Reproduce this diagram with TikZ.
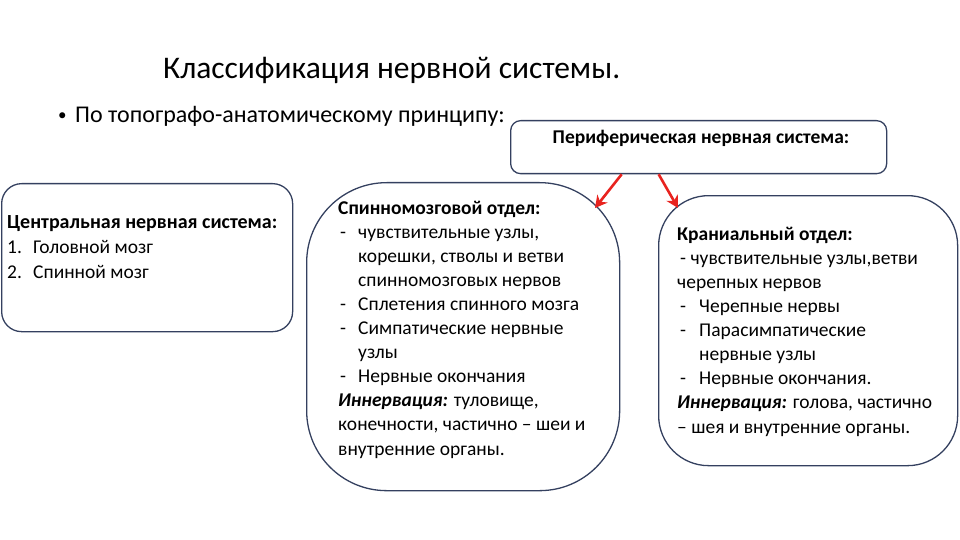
\documentclass[tikz,border=0pt]{standalone}
\usepackage{fontspec}
\setmainfont{Carlito}
\usetikzlibrary{arrows.meta}
\definecolor{boxcol}{HTML}{34405F}
\definecolor{arrred}{HTML}{E8231F}
\tikzset{
  box/.style={draw=boxcol, line width=1.3pt, anchor=north west, inner sep=0pt},
  txt/.style={anchor=base west, inner sep=0pt, font=\fontsize{19.5}{24}\selectfont},
  arr/.style={draw=arrred, line width=2.6pt, -{Stealth[length=12pt,width=13pt]}}
}
\begin{document}
\begin{tikzpicture}[x=1pt,y=-1pt]
\useasboundingbox (0,0) rectangle (960,540);
% title
\node[anchor=base west, inner sep=0pt, font=\fontsize{31.5}{38}\selectfont] (title) at (163,79) {Классификация нервной системы.};
\node[anchor=base west, inner sep=0pt, font=\fontsize{17}{20}\selectfont] (bul) at (58,121) {•};
\node[anchor=base west, inner sep=0pt, font=\fontsize{24}{28}\selectfont] (sub) at (75,123) {По топографо-анатомическому принципу:};
% boxes
\node[box, rounded corners=20pt, minimum width=291pt, minimum height=148pt] (central) at (1,183) {};
\node[box, rounded corners=10pt, minimum width=376pt, minimum height=53pt] (periph) at (510,120) {};
\node[box, rounded corners=80pt, minimum width=313pt, minimum height=308pt] (spinal) at (306,182) {};
\node[box, rounded corners=50pt, minimum width=299pt, minimum height=270pt] (cranial) at (658,195) {};
% central text
\node[txt, font=\fontsize{20}{24}\selectfont] (c1) at (7,228) {\textbf{Центральная нервная система:}};
\node[txt] (c2a) at (7,253) {1.};
\node[txt] (c2b) at (33,253) {Головной мозг};
\node[txt] (c3a) at (7,278) {2.};
\node[txt] (c3b) at (33,278) {Спинной мозг};
% peripheral text
\node[anchor=base, inner sep=0pt, font=\fontsize{19.5}{24}\selectfont] (p1) at (701,144) {\textbf{Периферическая нервная система:}};
% spinal text
\node[txt] (s1) at (338,214) {\textbf{Спинномозговой отдел:}};
\node[txt] (s2a) at (340,238) {-};
\node[txt] (s2b) at (358,238) {чувствительные узлы,};
\node[txt] (s3) at (358,262) {корешки, стволы и ветви};
\node[txt] (s4) at (358,286) {спинномозговых нервов};
\node[txt] (s5a) at (340,310) {-};
\node[txt] (s5b) at (358,310) {Сплетения спинного мозга};
\node[txt] (s6a) at (340,334) {-};
\node[txt] (s6b) at (358,334) {Симпатические нервные};
\node[txt] (s7) at (358,358) {узлы};
\node[txt] (s8a) at (340,382) {-};
\node[txt] (s8b) at (358,382) {Нервные окончания};
\node[txt] (s9) at (338,406) {\textbf{\textit{Иннервация:}} туловище,};
\node[txt] (s10) at (338,430) {конечности, частично – шеи и};
\node[txt] (s11) at (338,455) {внутренние органы.};
% cranial text
\node[txt] (k1) at (677,240) {\textbf{Краниальный отдел:}};
\node[txt] (k2) at (680,264) {- чувствительные узлы,ветви};
\node[txt] (k3) at (677,288) {черепных нервов};
\node[txt] (k4a) at (680,312) {-};
\node[txt] (k4b) at (699,312) {Черепные нервы};
\node[txt] (k5a) at (680,336) {-};
\node[txt] (k5b) at (699,336) {Парасимпатические};
\node[txt] (k6) at (699,360) {нервные узлы};
\node[txt] (k7a) at (680,384) {-};
\node[txt] (k7b) at (699,384) {Нервные окончания.};
\node[txt] (k8) at (677,408) {\textbf{\textit{Иннервация:}} голова, частично};
\node[txt] (k9) at (677,433) {– шея и внутренние органы.};
% arrows
\coordinate (tipA) at (595,208);
\coordinate (tipB) at (678,208);
\draw[arr] ([xshift=-77pt]periph.south) -- (tipA);
\draw[arr] ([xshift=-40pt]periph.south) -- (tipB);
\end{tikzpicture}
\end{document}
